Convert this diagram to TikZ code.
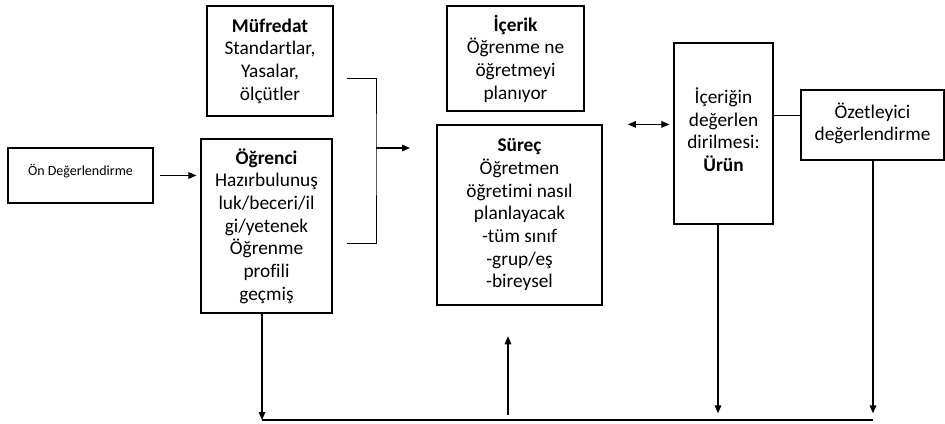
\documentclass[tikz,border=0pt]{standalone}
\usepackage{fontspec}
\setmainfont[Ligatures=NoCommon]{Carlito}
\usetikzlibrary{positioning,arrows.meta,calc}

\begin{document}
\begin{tikzpicture}[x=0.75pt, y=-0.75pt, >={Triangle[length=6pt,width=5pt]},
  box/.style={draw, line width=0.9pt, align=center, inner sep=2pt,
    font=\fontsize{14.5}{17}\selectfont},
  link/.style={line width=0.8pt},
  thin link/.style={line width=0.5pt}]
  \useasboundingbox (0,0) rectangle (945,424);

  \node (on)  [box, minimum width=108.75pt, minimum height=41.25pt, align=none,
    font=\fontsize{10.5}{12}\selectfont, text height=7pt, text depth=6.5pt] at (80.5,175.5) {Ön Değerlendirme};
  \node (muf) [box, minimum width=94.5pt, minimum height=82.5pt] at (270,61)
    {\textbf{Müfredat}\\Standartlar,\\Yasalar,\\ölçütler};
  \node (ogr) [box, minimum width=98.25pt, minimum height=130.5pt] at (266.5,226)
    {\textbf{Öğrenci}\\Hazırbulunuş\\luk/beceri/il\\gi/yetenek\\Öğrenme\\profili\\geçmiş};
  \node (icr) [box, minimum width=102.75pt, minimum height=78.75pt] at (515.5,58.5)
    {\textbf{İçerik}\\Öğrenme ne\\öğretmeyi\\planıyor};
  \node (src) [box, minimum width=123.75pt, minimum height=135pt] at (519.5,215)
    {\textbf{Süreç}\\Öğretmen\\öğretimi nasıl\\planlayacak\\-tüm sınıf\\-grup/eş\\-bireysel};
  \node (urn) [box, minimum width=74.25pt, minimum height=135.75pt] at (723.5,133.5)
    {İçeriğin\\değerlen\\dirilmesi:\\\textbf{Ürün}\\[-11pt]\mbox{}};
  \node (ozt) [box, minimum width=107.25pt, minimum height=52.5pt] at (872.5,125)
    {Özetleyici\\değerlendirme\\[-12pt]\mbox{}};

  \coordinate (k1) at (347,78);
  \coordinate (k2) at (347,243);
  \coordinate (kj) at (376,148);
  \coordinate (kt) at (410,148);
  \coordinate (b1) at (262,420);
  \coordinate (b2) at (508,415);
  \coordinate (b3) at (718,420);
  \coordinate (b4) at (873,420);

  \draw[->, link, shorten <=5pt, shorten >=3pt] (on.east) -- (on.east -| ogr.west);
  \draw[thin link] (k1) -| (kj) |- (k2);
  \draw[->, link] (kj) -- (kt);
  \draw[<->, link, shorten <=19pt, shorten >=3pt] (src.north east) -- (src.north east -| urn.west);
  \draw[thin link] (urn.east |- 0,115) -- (ozt.west |- 0,115);

  \draw[->, link] (b1 |- ogr.south) -- (b1);
  \draw[->, link, shorten >=23pt] (b2) -- (b2 |- src.south);
  \draw[->, link, shorten >=5pt] (b3 |- urn.south) -- (b3);
  \draw[->, link, shorten >=5pt] (b4 |- ozt.south) -- (b4);
  \draw[link] (b1) -- (b4);
\end{tikzpicture}
\end{document}
